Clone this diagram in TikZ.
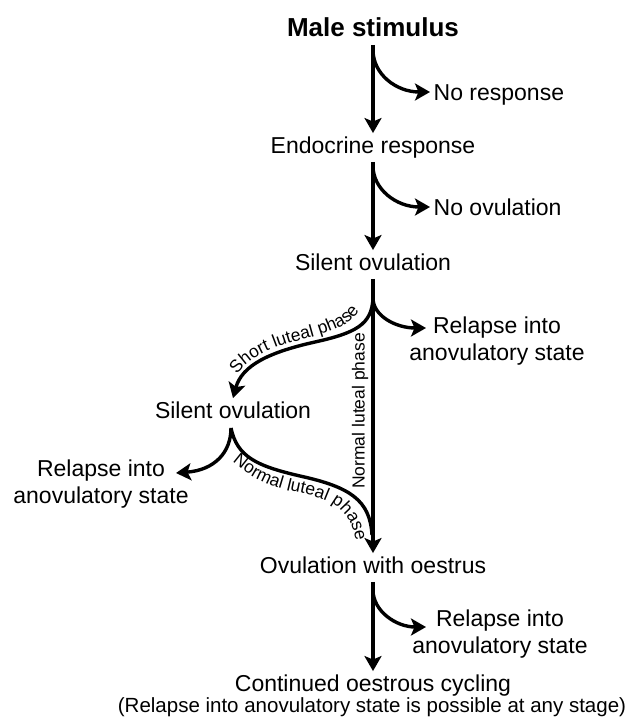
\documentclass[tikz,border=0pt]{standalone}
\usepackage{fontspec}
\setmainfont{Liberation Sans}
\usetikzlibrary{arrows.meta,decorations.text}
\newcommand\mainfs{\fontsize{23}{27}\selectfont}
\newcommand\boldfs{\fontsize{26}{30}\selectfont\bfseries}
\newcommand\lblfs{\fontsize{17.5}{21}\selectfont}
\newcommand\vlblfs{\fontsize{17.5}{21}\selectfont}
\newcommand\notefs{\fontsize{20.5}{24}\selectfont}
\begin{document}
\begin{tikzpicture}[x=1pt,y=-1pt,
  txt/.style={font=\mainfs, inner sep=3.5pt, text height=16.5pt, text depth=5pt},
  multi/.style={font=\mainfs, inner sep=0pt, align=center},
  arr/.style={line width=3.4pt, -{Stealth[length=15pt,width=17pt,inset=3.5pt]}},
  lbl/.style={font=\vlblfs, inner sep=0pt},
  curvelbl/.style={decorate, decoration={text along path, text align=center, raise=0pt, text={|\lblfs|#1}}}]
\useasboundingbox (0,0) rectangle (629,718);
\fill[white] (0,0) rectangle (629,718);

% main chain
\node[txt, font=\boldfs] (male) at (373,30.5) {Male stimulus};
\node[txt] (endo) at (373,147.5) {Endocrine response};
\node[txt] (sil1) at (373,264.5) {Silent ovulation};
\node[txt] (sil2) at (233,412.5) {Silent ovulation};
\node[txt] (ovo) at (373,567.5) {Ovulation with oestrus};
\node[txt] (cont) at (373,685.5) {Continued oestrous cycling};
\node[font=\notefs, inner sep=0pt] (note) at (372,707) {(Relapse into anovulatory state is possible at any stage)};

% side outcomes
\node[txt, anchor=west] (nores) at (430,94.5) {No response};
\node[txt, anchor=west] (noov) at (430,209.5) {No ovulation};
\node[multi] (rel1) at (497,341) {Relapse into\\anovulatory state};
\node[multi] (rel2) at (101,484) {Relapse into\\anovulatory state};
\node[multi] (rel3) at (500,634) {Relapse into\\anovulatory state};

% branch points and free ends
\coordinate (c1) at (373,50);
\coordinate (c2) at (373,166);
\coordinate (c3) at (373,298);
\coordinate (c4) at (231,428);
\coordinate (c5) at (373,590);
\coordinate (m1) at (372,535);
\coordinate (t2) at (176,473);
\coordinate (t3) at (426,328);
\coordinate (t5) at (426,627);

% main arrows
\draw[arr] (male.south) -- (endo.north);
\draw[arr] (endo.south) -- (sil1.north);
\draw[arr] (sil1.south) -- (ovo.north);
\draw[arr] (ovo.south) -- (cont.north);

% side branches
\draw[arr] (c1) .. controls (373,74) and (396,92) .. ([yshift=2.5pt]nores.west);
\draw[arr] (c2) .. controls (373,189) and (396,207) .. ([yshift=2.5pt]noov.west);
\draw[arr] (c3) .. controls (373,316) and (396,328) .. (t3);
\draw[arr] (c5) .. controls (373,611) and (396,627) .. (t5);
\draw[arr] (c4) .. controls (231,452) and (215,470) .. (t2);

% short luteal phase
\draw[arr] (c3) .. controls (372,325) and (355,333) .. (315,342)
                .. controls (270,352) and (242,365) .. (sil2.north);
\path[curvelbl={Short luteal phase}]
  (231,386) .. controls (240,362) and (265,349) .. (300,340)
            .. controls (340,330) and (358,322) .. (364,298);

% normal luteal phase (curved)
\draw[line width=3.4pt] (c4) .. controls (237,457) and (257,466) .. (300,476)
                .. controls (350,487) and (370,500) .. (m1);
\path[curvelbl={Normal luteal phase}]
  (226,456) .. controls (250,478) and (268,487) .. (300,493)
            .. controls (338,501) and (353,512) .. (357,550);

% normal luteal phase (straight)
\node[lbl, rotate=90] (nlp) at (360,411) {Normal luteal phase};
\end{tikzpicture}
\end{document}
